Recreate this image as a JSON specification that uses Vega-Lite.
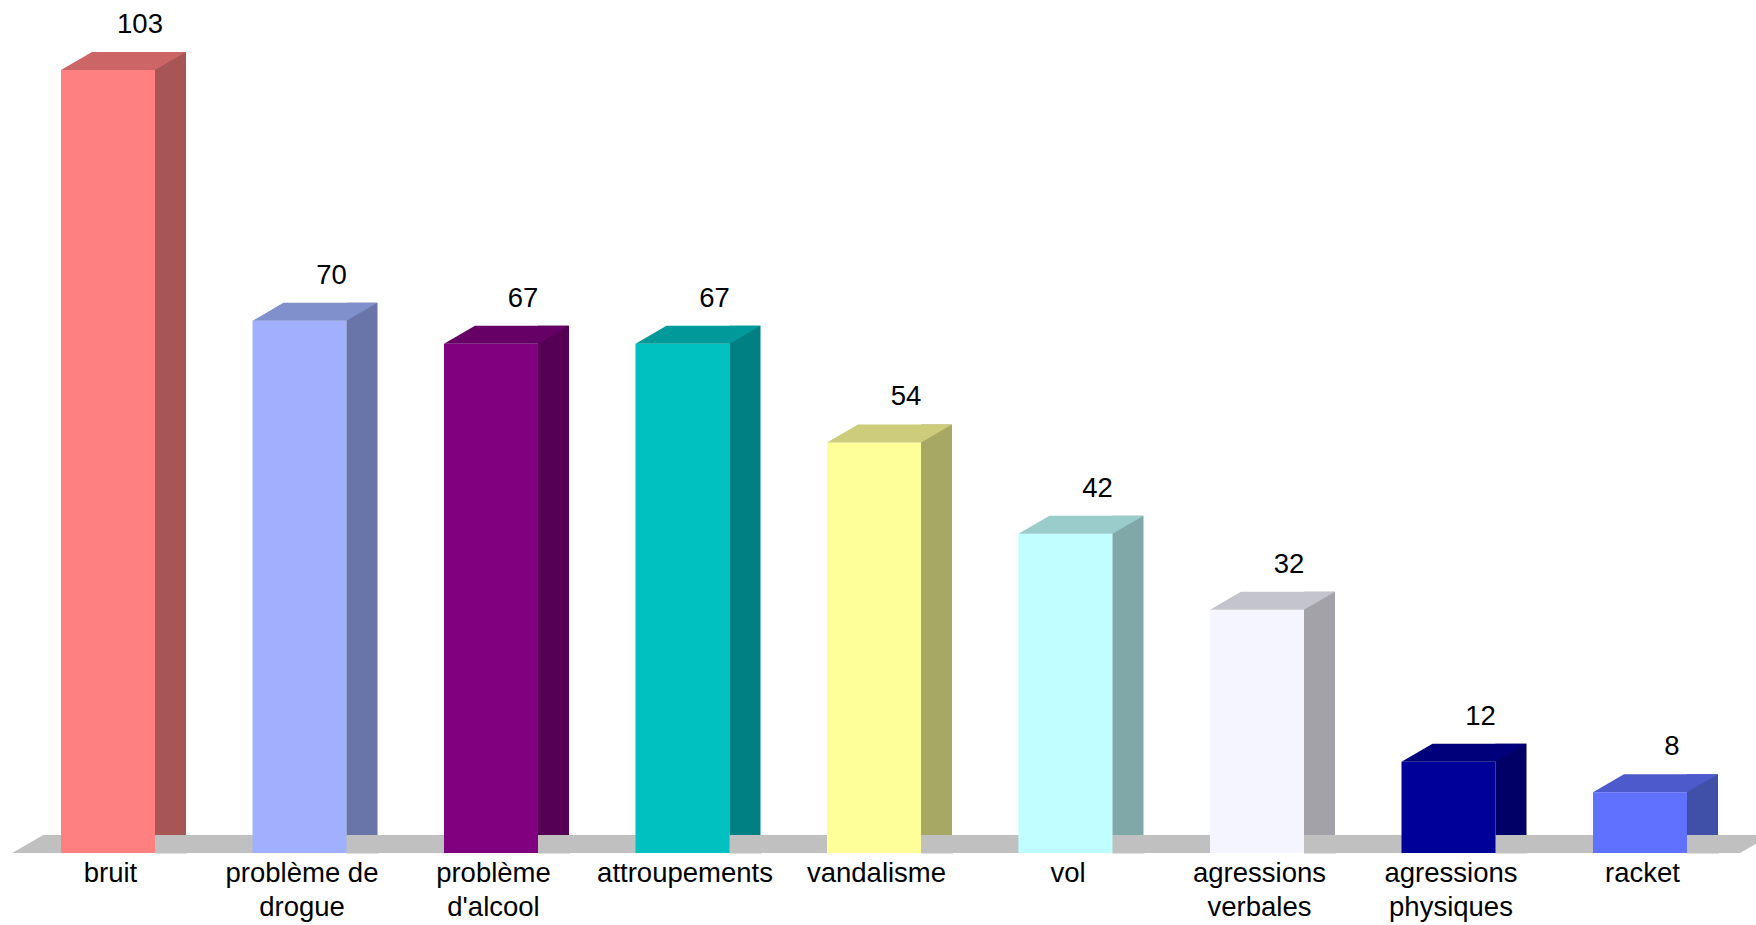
{
  "$schema": "https://vega.github.io/schema/vega-lite/v6.json",
  "autosize": "none",
  "width": 1723.5,
  "height": 853,
  "padding": {"left": 12.25, "top": 0, "right": 20.25, "bottom": 72},
  "background": "white",
  "config": {"view": {"stroke": null}, "font": "Liberation Sans"},
  "data": {"values": [
    {"cat": "bruit", "n": 103},
    {"cat": "problème de drogue", "n": 70},
    {"cat": "problème d'alcool", "n": 67},
    {"cat": "attroupements", "n": 67},
    {"cat": "vandalisme", "n": 54},
    {"cat": "vol", "n": 42},
    {"cat": "agressions verbales", "n": 32},
    {"cat": "agressions physiques", "n": 12},
    {"cat": "racket", "n": 8}
  ]},
  "encoding": {
    "x": {"field": "cat", "type": "nominal", "sort": null,
      "scale": {"paddingInner": 0.5091, "paddingOuter": 0.25455},
      "axis": {"title": null, "domain": false, "ticks": false, "labelAngle": 0,
        "labelFont": "Liberation Sans", "labelFontSize": 27.5, "labelColor": "black",
        "labelPadding": 6, "labelLineHeight": 34, "labelOffset": 2.5, "labelBaseline": "top",
        "labelExpr": "datum.value == 'problème de drogue' ? ['problème de', 'drogue'] : split(datum.value, ' ')"}}
  },
  "layer": [
    {
      "mark": {"type": "point", "filled": true, "opacity": 1, "strokeWidth": 0, "color": "#C0C0C0", "size": 40000,
        "shape": "M-0.9575,0L1.0,0L1.31,-0.18L-0.6475,-0.18Z"},
      "encoding": {"y": {"datum": 0, "type": "quantitative", "scale": {"domain": [0, 112.2], "nice": false}, "axis": null}}
    },
    {
      "mark": {"type": "bar"},
      "encoding": {
        "y": {"field": "n", "type": "quantitative", "scale": {"domain": [0, 112.2], "nice": false}, "axis": null},
        "color": {"field": "cat", "type": "nominal", "sort": null, "legend": null,
          "scale": {"range": ["#FF8080", "#A0B0FF", "#800080", "#00C0C0", "#FFFF99", "#C0FFFF", "#F5F5FF", "#000099", "#6070FF"]}}
      }
    },
    {
      "mark": {"type": "bar", "width": 31, "xOffset": 62.5, "yOffset": -18},
      "encoding": {
        "y": {"field": "n", "type": "quantitative", "axis": null},
        "color": {"field": "cat", "type": "nominal", "sort": null, "legend": null,
          "scale": {"range": ["#A85555", "#6974A8", "#550055", "#008080", "#A8A865", "#80A8A8", "#A2A2A8", "#000066", "#4050A8"]}}
      }
    },
    {
      "mark": {"type": "point", "filled": true, "opacity": 1, "strokeWidth": 0, "color": "#C0C0C0", "size": 40000,
        "shape": "M0.465,0.005L0.79,0.005L0.79,-0.18Z"},
      "encoding": {"y": {"datum": 0, "type": "quantitative", "axis": null}}
    },
    {
      "mark": {"type": "point", "filled": true, "opacity": 1, "strokeWidth": 0, "size": 40000,
        "shape": "M-0.47,0L0.47,0L0.78,-0.18L-0.16,-0.18Z"},
      "encoding": {
        "y": {"field": "n", "type": "quantitative", "axis": null},
        "color": {"field": "cat", "type": "nominal", "sort": null, "legend": null,
          "scale": {"range": ["#CC6666", "#8090CC", "#660066", "#009A9A", "#CCCC7A", "#9ACCCC", "#C4C4CC", "#00007A", "#4D5ACC"]}}
      }
    },
    {
      "mark": {"type": "text", "dx": 32, "dy": -37, "baseline": "alphabetic", "align": "center",
        "font": "Liberation Sans", "fontSize": 27.5, "color": "black"},
      "encoding": {
        "y": {"field": "n", "type": "quantitative", "axis": null},
        "text": {"field": "n", "type": "quantitative"}
      }
    }
  ],
  "resolve": {"scale": {"color": "independent"}}
}
